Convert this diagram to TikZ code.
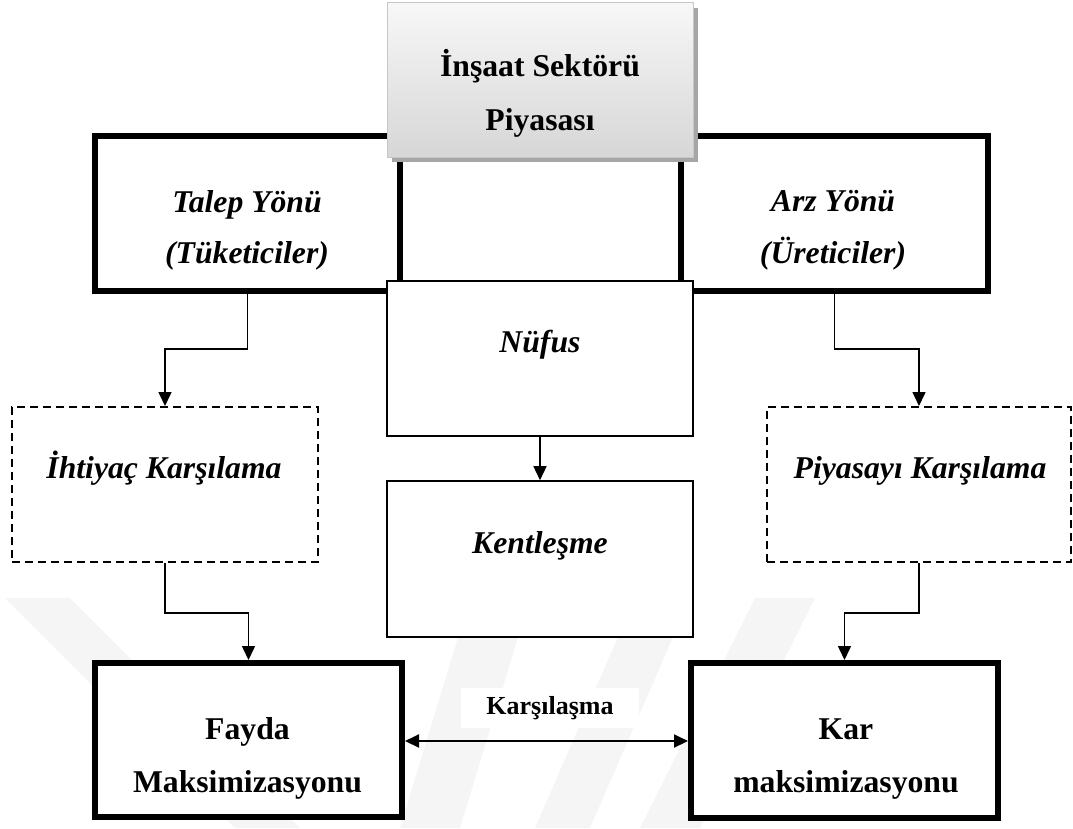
\documentclass[tikz,border=0pt]{standalone}
\usepackage{fontspec}
\setmainfont{Liberation Serif}
\usetikzlibrary{arrows.meta}

\begin{document}
\begin{tikzpicture}[x=1pt, y=-1pt,
  bigfont/.style={font=\fontsize{31.7pt}{38pt}\selectfont\bfseries},
  bigit/.style={font=\fontsize{31.7pt}{38pt}\selectfont\bfseries\itshape},
  txt/.style={anchor=base, inner sep=0pt},
  thickbox/.style={draw, fill=white, line width=6pt, inner sep=0pt},
  thinbox/.style={draw, fill=white, line width=1.6pt, inner sep=0pt},
  dashbox/.style={draw, fill=white, line width=2pt, dash pattern=on 8pt off 5pt, inner sep=0pt},
  conn/.style={line width=1.5pt, -{Triangle[length=14pt, width=13pt]}},
  wm/.style={fill=black!4, draw=none}
]
\useasboundingbox (0,0) rectangle (1073,828);

% faint background emblem
\fill[wm] (5,598) -- (70,598) -- (300,828) -- (235,828) -- cycle;
\fill[wm] (470,598) -- (530,598) -- (460,828) -- (400,828) -- cycle;
\fill[wm] (635,598) -- (690,598) -- (590,828) -- (535,828) -- cycle;
\fill[wm] (755,598) -- (815,598) -- (700,828) -- (640,828) -- cycle;

% demand and supply side frames
\node[thickbox, minimum width=305pt, minimum height=155pt] (talep) at (247.5,213.5) {};
\node[thickbox, minimum width=307pt, minimum height=155pt] (arz) at (834.5,213.5) {};

% market header with drop shadow
\fill[black!35] (392,8) rectangle (698,162);
\node[draw=black!22, line width=1pt, top color=black!3, bottom color=black!16,
      minimum width=306pt, minimum height=155pt, inner sep=0pt] (piyasa) at (540,80) {};

% centre column
\node[thinbox, minimum width=306pt, minimum height=155pt] (nufus) at (540,358.5) {};
\node[thinbox, minimum width=306pt, minimum height=156pt] (kent) at (540,559) {};

% dashed intermediate boxes
\node[dashbox, minimum width=306pt, minimum height=155pt] (ihtiyac) at (165,484.5) {};
\node[dashbox, minimum width=304pt, minimum height=155pt] (karsilama) at (919,484.5) {};

% outcome boxes
\node[thickbox, minimum width=307pt, minimum height=154pt] (fayda) at (248.5,740) {};
\node[thickbox, minimum width=307pt, minimum height=155pt] (kar) at (844.5,740.5) {};

% texts
\node[txt, bigfont] (piyasa-1) at (540,76) {İnşaat Sektörü};
\node[txt, bigfont] (piyasa-2) at (540,130) {Piyasası};
\node[txt, bigit] (talep-1) at (247,212) {Talep Yönü};
\node[txt, bigit] (talep-2) at (247,263) {(Tüketiciler)};
\node[txt, bigit] (arz-1) at (833,211) {Arz Yönü};
\node[txt, bigit] (arz-2) at (833,263) {(Üreticiler)};
\node[txt, bigit] (nufus-1) at (540,352) {Nüfus};
\node[txt, bigit] (kent-1) at (540,553) {Kentleşme};
\node[txt, bigit] (ihtiyac-1) at (164,478) {İhtiyaç Karşılama};
\node[txt, bigit] (karsilama-1) at (920,478) {Piyasayı Karşılama};
\node[txt, bigfont] (fayda-1) at (247.5,739) {Fayda};
\node[txt, bigfont] (fayda-2) at (247.5,792) {Maksimizasyonu};
\node[txt, bigfont] (kar-1) at (846,739) {Kar};
\node[txt, bigfont] (kar-2) at (846,792) {maksimizasyonu};

% connectors
\draw[conn] (talep.south) -- ++(0,55) -| (ihtiyac.north);
\draw[conn] (arz.south) -- ++(0,55) -| (karsilama.north);
\draw[conn] (nufus.south) -- (kent.north);
\draw[conn] (ihtiyac.south) -- ++(0,50) -| (fayda.north);
\draw[conn] (karsilama.south) -- ++(0,50) -| (kar.north);

% meeting of both sides
\node[fill=white, inner xsep=25pt, inner ysep=8pt,
      font=\fontsize{26pt}{30pt}\selectfont\bfseries] (karsilasma) at (550,708) {Karşılaşma};
\draw[line width=2pt, {Triangle[length=14pt, width=13pt]}-{Triangle[length=14pt, width=13pt]}]
  (fayda.east |- 0,741) -- (kar.west |- 0,741);
\end{tikzpicture}
\end{document}
